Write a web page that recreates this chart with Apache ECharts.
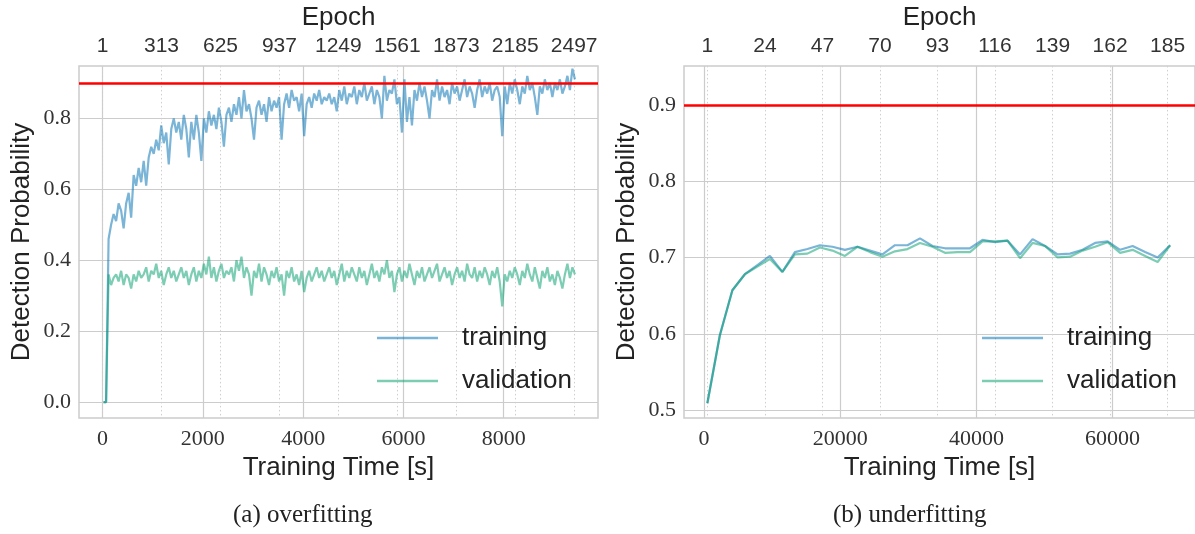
<!DOCTYPE html>
<html><head><meta charset="utf-8">
<script src="https://cdn.jsdelivr.net/npm/echarts@6/dist/echarts.min.js"></script>
<style>html,body{margin:0;padding:0;background:#fff}#c{width:1195px;height:534px}</style>
</head><body><div id="c"></div>
<script>
// ---------- data ----------
// (a) overfitting: samples every 50 s starting at 20 s
const sampleStartA = 20;
const sampleStepA = 50;
const trainA = [
 0, 0, 0.46, 0.50, 0.53, 0.51, 0.56, 0.54, 0.49, 0.56,
 0.59, 0.52, 0.64, 0.61, 0.66, 0.62, 0.68, 0.61, 0.69, 0.72,
 0.70, 0.74, 0.71, 0.78, 0.73, 0.76, 0.67, 0.77, 0.80, 0.76,
 0.79, 0.74, 0.81, 0.77, 0.69, 0.79, 0.74, 0.81, 0.76, 0.68,
 0.80, 0.76, 0.82, 0.78, 0.81, 0.77, 0.83, 0.79, 0.72, 0.81,
 0.83, 0.79, 0.84, 0.81, 0.86, 0.80, 0.88, 0.82, 0.84, 0.80,
 0.74, 0.83, 0.85, 0.81, 0.84, 0.79, 0.86, 0.82, 0.85, 0.83,
 0.86, 0.74, 0.84, 0.87, 0.83, 0.88, 0.85, 0.86, 0.82, 0.87,
 0.75, 0.84, 0.86, 0.83, 0.87, 0.85, 0.88, 0.84, 0.86, 0.85,
 0.87, 0.84, 0.86, 0.82, 0.88, 0.85, 0.89, 0.84, 0.87, 0.86,
 0.89, 0.84, 0.88, 0.86, 0.90, 0.85, 0.87, 0.89, 0.84, 0.88,
 0.86, 0.80, 0.92, 0.85, 0.88, 0.87, 0.91, 0.84, 0.86, 0.76,
 0.91, 0.79, 0.86, 0.78, 0.88, 0.85, 0.90, 0.86, 0.89, 0.85,
 0.80, 0.88, 0.86, 0.91, 0.85, 0.89, 0.86, 0.88, 0.84, 0.90,
 0.87, 0.89, 0.85, 0.88, 0.91, 0.86, 0.89, 0.87, 0.83, 0.88,
 0.91, 0.86, 0.89, 0.87, 0.90, 0.85, 0.88, 0.89, 0.86, 0.75,
 0.89, 0.84, 0.90, 0.87, 0.91, 0.88, 0.84, 0.89, 0.87, 0.92,
 0.88, 0.90, 0.86, 0.81, 0.89, 0.87, 0.91, 0.88, 0.90, 0.86,
 0.90, 0.88, 0.91, 0.87, 0.89, 0.92, 0.88, 0.94, 0.91
];
const validA = [
 0, 0, 0.36, 0.33, 0.35, 0.36, 0.34, 0.37, 0.33, 0.36,
 0.35, 0.32, 0.36, 0.34, 0.37, 0.35, 0.36, 0.38, 0.34, 0.37,
 0.36, 0.39, 0.35, 0.37, 0.33, 0.36, 0.38, 0.35, 0.37, 0.34,
 0.36, 0.38, 0.35, 0.37, 0.33, 0.36, 0.38, 0.34, 0.37, 0.35,
 0.39, 0.36, 0.41, 0.35, 0.38, 0.34, 0.37, 0.39, 0.35, 0.37,
 0.36, 0.38, 0.34, 0.40, 0.37, 0.41, 0.35, 0.38, 0.36, 0.30,
 0.37, 0.35, 0.39, 0.34, 0.38, 0.36, 0.33, 0.37, 0.35, 0.38,
 0.34, 0.36, 0.30, 0.37, 0.35, 0.38, 0.34, 0.36, 0.33, 0.37,
 0.31, 0.35, 0.37, 0.34, 0.36, 0.38, 0.35, 0.37, 0.34, 0.36,
 0.38, 0.35, 0.37, 0.33, 0.36, 0.39, 0.34, 0.37, 0.35, 0.38,
 0.36, 0.34, 0.38, 0.35, 0.37, 0.33, 0.36, 0.39, 0.35, 0.37,
 0.34, 0.38, 0.36, 0.40, 0.35, 0.37, 0.31, 0.36, 0.38, 0.34,
 0.37, 0.35, 0.39, 0.36, 0.33, 0.37, 0.35, 0.38, 0.34, 0.36,
 0.38, 0.35, 0.37, 0.39, 0.34, 0.36, 0.38, 0.35, 0.37, 0.33,
 0.36, 0.38, 0.35, 0.37, 0.34, 0.39, 0.36, 0.35, 0.38, 0.34,
 0.37, 0.35, 0.38, 0.36, 0.33, 0.37, 0.35, 0.38, 0.34, 0.27,
 0.36, 0.34, 0.37, 0.35, 0.38, 0.36, 0.33, 0.37, 0.35, 0.39,
 0.36, 0.34, 0.38, 0.35, 0.32, 0.37, 0.35, 0.38, 0.34, 0.36,
 0.33, 0.37, 0.35, 0.32, 0.36, 0.39, 0.35, 0.38, 0.36
];
// (b) underfitting
const timesB = [480, 2317, 4154, 5991, 7828, 9665, 11502, 13339, 15176, 17013,
 18850, 20687, 22524, 24361, 26198, 28035, 29872, 31709, 33546, 35383,
 37220, 39057, 40894, 42731, 44568, 46405, 48242, 50079, 51916, 53753,
 55590, 57427, 59264, 61101, 62938, 64775, 66612, 68449];
const trainB = [0.509, 0.598, 0.657, 0.678, 0.690, 0.702, 0.681, 0.707, 0.711, 0.716,
 0.714, 0.710, 0.714, 0.709, 0.704, 0.716, 0.716, 0.725, 0.715, 0.712,
 0.712, 0.712, 0.723, 0.720, 0.722, 0.704, 0.724, 0.715, 0.704, 0.705,
 0.710, 0.719, 0.721, 0.710, 0.715, 0.707, 0.700, 0.716];
const validB = [0.509, 0.598, 0.657, 0.678, 0.688, 0.698, 0.681, 0.704, 0.705, 0.713,
 0.709, 0.702, 0.714, 0.707, 0.701, 0.708, 0.711, 0.719, 0.714, 0.706,
 0.707, 0.707, 0.721, 0.721, 0.722, 0.699, 0.719, 0.715, 0.700, 0.701,
 0.709, 0.714, 0.720, 0.706, 0.710, 0.702, 0.694, 0.716];

const timeTicksA = [0, 2000, 4000, 6000, 8000];
const timeTicksB = [0, 20000, 40000, 60000];
const epochTicksA = [1, 313, 625, 937, 1249, 1561, 1873, 2185, 2497];
const epochTicksB = [1, 24, 47, 70, 93, 116, 139, 162, 185];
const probTicksA = [0, 0.2, 0.4, 0.6, 0.8];
const probTicksB = [0.5, 0.6, 0.7, 0.8, 0.9];
const targetProb = 0.9;
const secPerEpochA = 3.768, epochZeroA = 0;     // epoch 1 at t = 0 s
const secPerEpochB = 367.4, epochZeroB = 480;   // epoch 1 at t = 480 s
const seriesNames = ['training', 'validation'];
const captions = ['(a) overfitting', '(b) underfitting'];

// ---------- style / layout ----------
const SERIF = '"Liberation Serif", "Times New Roman", serif';
const SANS = '"Liberation Sans", Arial, sans-serif';
const GRID_COLOR = '#cccccc';
const C_TRAIN = 'rgba(0,111,176,0.52)';
const C_VALID = 'rgba(5,159,111,0.52)';
const rangeA = { xmin: -470, xmax: 9880, ymin: -0.045, ymax: 0.948 };
const rangeB = { xmin: -2950, xmax: 72100, ymin: 0.4896, ymax: 0.951 };

function bottomAxis(gi, r, ticks) {
  return {
    type: 'value', gridIndex: gi, position: 'bottom', min: r.xmin, max: r.xmax,
    axisLine: { show: false },
    axisTick: { show: false, customValues: ticks },
    axisLabel: { customValues: ticks, fontFamily: SERIF, fontSize: 22, color: '#333', margin: 10,
      formatter: v => String(Math.round(v)) },
    splitLine: { show: true, lineStyle: { color: GRID_COLOR, width: 1.2 } },
    name: 'Training Time [s]', nameLocation: 'middle', nameGap: 36,
    nameTextStyle: { fontFamily: SANS, fontSize: 26, color: '#222' }
  };
}
function topAxis(gi, r, ticks, spe, zero) {
  return {
    type: 'value', gridIndex: gi, position: 'top',
    min: 1 + (r.xmin - zero) / spe, max: 1 + (r.xmax - zero) / spe,
    axisLine: { show: false },
    axisTick: { show: false, customValues: ticks },
    axisLabel: { customValues: ticks, fontFamily: SANS, fontSize: 21, color: '#333', margin: 9,
      formatter: v => String(Math.round(v)) },
    splitLine: { show: true, lineStyle: { color: '#cfcfcf', width: 1, type: [1.5, 2.5] } },
    name: 'Epoch', nameLocation: 'middle', nameGap: 34,
    nameTextStyle: { fontFamily: SANS, fontSize: 26, color: '#222' }
  };
}
function leftAxis(gi, r, ticks) {
  return {
    type: 'value', gridIndex: gi, min: r.ymin, max: r.ymax,
    axisLine: { show: false },
    axisTick: { show: false, customValues: ticks },
    axisLabel: { customValues: ticks, fontFamily: SERIF, fontSize: 22, color: '#333', margin: 8,
      formatter: v => Number(v).toFixed(1) },
    splitLine: { show: true, lineStyle: { color: GRID_COLOR, width: 1.2 } },
    name: 'Detection Probability', nameLocation: 'middle', nameGap: 44,
    nameTextStyle: { fontFamily: SANS, fontSize: 26, color: '#222' }
  };
}
function lineSeries(name, xi, yi, data, color, withTarget) {
  const s = {
    type: 'line', name, xAxisIndex: xi, yAxisIndex: yi, data,
    symbol: 'none', showSymbol: false, color,
    lineStyle: { color, width: 2.2 }, z: 3
  };
  if (withTarget) {
    s.markLine = {
      silent: true, symbol: 'none', label: { show: false }, animation: false,
      lineStyle: { color: '#ff0000', width: 2.5, type: 'solid', opacity: 1 },
      data: [{ yAxis: targetProb }]
    };
  }
  return s;
}
function legend(left) {
  return {
    orient: 'vertical', left, top: 318, icon: 'rect', itemWidth: 61, itemHeight: 2.5,
    itemGap: 13, data: seriesNames, selectedMode: false,
    textStyle: { fontFamily: SANS, fontSize: 26, color: '#222', lineHeight: 30, padding: [0, 0, 0, 19] }
  };
}

const dataTrainA = trainA.map((v, i) => [sampleStartA + i * sampleStepA, v]);
const dataValidA = validA.map((v, i) => [sampleStartA + i * sampleStepA, v]);
const dataTrainB = trainB.map((v, i) => [timesB[i], v]);
const dataValidB = validB.map((v, i) => [timesB[i], v]);

const chart = echarts.init(document.getElementById('c'), null, { renderer: 'canvas' });
chart.setOption({
  animation: false,
  backgroundColor: '#ffffff',
  grid: [
    { left: 79, top: 64, width: 519, height: 354, show: true, borderColor: GRID_COLOR, borderWidth: 1.5, backgroundColor: 'transparent' },
    { left: 684, top: 64, width: 519, height: 354, show: true, borderColor: GRID_COLOR, borderWidth: 1.5, backgroundColor: 'transparent' }
  ],
  xAxis: [
    bottomAxis(0, rangeA, timeTicksA),
    topAxis(0, rangeA, epochTicksA, secPerEpochA, epochZeroA),
    bottomAxis(1, rangeB, timeTicksB),
    topAxis(1, rangeB, epochTicksB, secPerEpochB, epochZeroB)
  ],
  yAxis: [leftAxis(0, rangeA, probTicksA), leftAxis(1, rangeB, probTicksB)],
  legend: [legend(372), legend(977)],
  series: [
    lineSeries(seriesNames[0], 0, 0, dataTrainA, C_TRAIN, true),
    lineSeries(seriesNames[1], 0, 0, dataValidA, C_VALID, false),
    lineSeries(seriesNames[0], 2, 1, dataTrainB, C_TRAIN, true),
    lineSeries(seriesNames[1], 2, 1, dataValidB, C_VALID, false)
  ],
  graphic: [
    { type: 'text', left: 303 - 70, top: 503, style: { text: captions[0], font: '25px ' + SERIF, fill: '#222' } },
    { type: 'text', left: 909 - 76, top: 503, style: { text: captions[1], font: '25px ' + SERIF, fill: '#222' } }
  ]
});
</script>
</body></html>
